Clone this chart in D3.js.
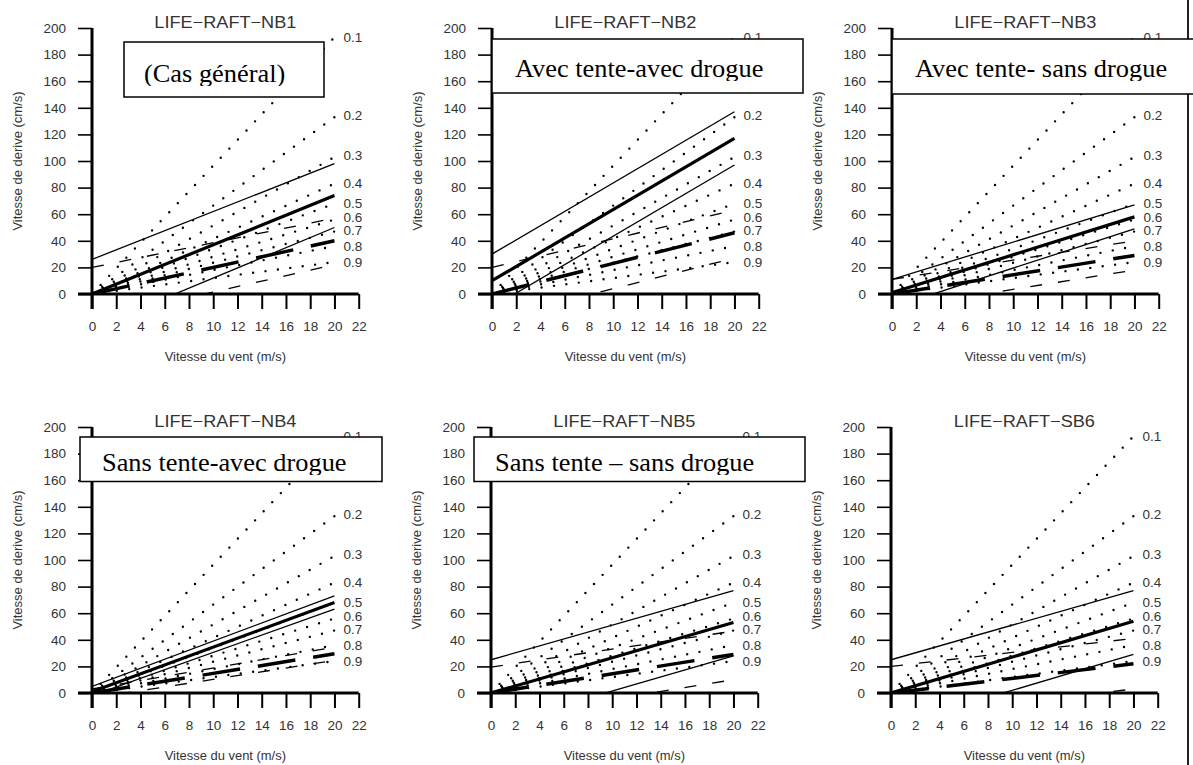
<!DOCTYPE html>
<html lang="fr">
<head>
<meta charset="UTF-8">
<title>Vitesse de derive - LIFE-RAFT</title>
<style>
  body { margin: 0; background: #fff; }
  svg text { font-family: "Liberation Sans", Arial, sans-serif; fill: #333; }
  svg text.note { font-family: "Liberation Serif", "Times New Roman", serif; fill: #000; }
</style>
</head>
<body>
<svg id="chart" width="1193" height="765"></svg>
<script src="https://cdn.jsdelivr.net/npm/d3@7"></script>
<script>

// ---- data ----

// x axis: wind speed (m/s), y axis: drift speed (cm/s)
var windTicks = [0, 2, 4, 6, 8, 10, 12, 14, 16, 18, 20, 22];
var driftTicks = [0, 20, 40, 60, 80, 100, 120, 140, 160, 180, 200];

// dotted reference lines from the origin, drift at 20 m/s
var levelNames = ["0.1", "0.2", "0.3", "0.4", "0.5", "0.6", "0.7", "0.8", "0.9"];
var levelEnds = [193, 133, 103, 83, 68, 56, 47, 36, 24];
// where each level's label sits (drift units)
var levelLabelAt = [193, 134, 104, 83, 68, 57.5, 48, 36, 24];

var panelTitles = ["LIFE\u2212RAFT\u2212NB1", "LIFE\u2212RAFT\u2212NB2", "LIFE\u2212RAFT\u2212NB3",
                   "LIFE\u2212RAFT\u2212NB4", "LIFE\u2212RAFT\u2212NB5", "LIFE\u2212RAFT\u2212SB6"];
var panelNotes = ["(Cas g\u00e9n\u00e9ral)", "Avec tente-avec drogue", "Avec tente- sans drogue",
                  "Sans tente-avec drogue", "Sans tente \u2013 sans drogue", null];

// fitted lines, [drift at 0 m/s, drift at 20 m/s] for each panel
var solidUpper = [[26, 98], [30, 137], [11, 67], [5, 73], [25, 77], [25, 77]];
var solidMean  = [[0, 74], [10, 117], [1, 58], [1, 68], [0, 53], [0, 54]];
var solidLower = [[-26, 50], [-10, 97], [-10, 49], [-2, 63], [-25, 28], [-25, 29]];
var dashUpper  = [[20, 57], [20, 63], [11, 40], [3, 34.5], [19.5, 46.5], [20, 41]];
var dashMean   = [[0, 40], [0, 46], [0, 29], [0, 29.5], [0, 29], [0, 22]];
var dashLower  = [[-19, 22], [-19, 27], [-11, 18], [-4, 24.5], [-19.5, 10], [-19, 3]];

// ---- layout ----

var origins = [[92, 28], [492, 28], [892, 28], [92, 427], [491, 427], [891, 427]];
// note boxes relative to panel origin: x, y, w, h, text x, text baseline
var noteBoxes = [[32, 14, 200, 55, 52, 54], [0, 11, 311, 54, 23, 49], [0, 11, 320, 55, 23, 49],
                 [-12, 10, 302, 44.5, 10, 44], [-17, 10, 331, 44.5, 4, 44], null];

var svg = d3.select("#chart");

var x = d3.scaleLinear().domain([0, 22]).range([0, 266.7]);
var y = d3.scaleLinear().domain([0, 200]).range([266, 0]);

var line = d3.line()
    .x(function(d) { return x(d[0]); })
    .y(function(d) { return y(d[1]); });

// helper for slightly wide text, like the scanned figure
function wideText(g, px, py, str, size, sx, anchor) {
    return g.append("text")
        .attr("transform", "translate(" + px + "," + py + ") scale(" + sx + ",1)")
        .attr("text-anchor", anchor)
        .attr("font-size", size)
        .text(str);
}

function drawPanel(i) {
    var g = svg.append("g")
        .attr("transform", "translate(" + origins[i][0] + "," + origins[i][1] + ")");

    // clip lines to the positive drift region
    g.append("clipPath").attr("id", "clip" + i)
        .append("rect")
        .attr("x", 0).attr("y", y(200) - 5)
        .attr("width", x(22)).attr("height", y(0) - y(200) + 5);

    var plot = g.append("g").attr("clip-path", "url(#clip" + i + ")");

    // dotted reference fan
    levelEnds.forEach(function(v) {
        plot.append("path")
            .attr("d", line([[0, 0], [20, v]]))
            .attr("fill", "none")
            .attr("stroke", "#000")
            .attr("stroke-width", 2.4)
            .attr("stroke-linecap", "round")
            .attr("stroke-dasharray", "0 12.5");
    });

    function fit(series, width, dash) {
        var p = plot.append("path")
            .attr("d", line([[0, series[i][0]], [20, series[i][1]]]))
            .attr("fill", "none")
            .attr("stroke", "#000")
            .attr("stroke-width", width);
        if (dash) p.attr("stroke-dasharray", dash);
    }

    fit(dashUpper, 1.3, "12 16");
    fit(dashLower, 1.3, "12 16");
    fit(dashMean, 3.5, "38 18");
    fit(solidUpper, 1.3);
    fit(solidLower, 1.3);
    fit(solidMean, 3.2);

    // axes
    var yAxis = g.append("g")
        .call(d3.axisLeft(y).tickValues(driftTicks).tickSize(14).tickPadding(12));
    var xAxis = g.append("g")
        .attr("transform", "translate(0," + y(0) + ")")
        .call(d3.axisBottom(x).tickValues(windTicks).tickSize(15).tickPadding(12));

    [yAxis, xAxis].forEach(function(a) {
        a.select(".domain").remove();
        a.selectAll("text").attr("font-size", 13.5)
            .attr("font-family", "Liberation Sans, Arial, sans-serif")
            .attr("fill", "#333");
    });
    yAxis.selectAll(".tick line").attr("stroke-width", 1.6);
    xAxis.selectAll(".tick line").attr("stroke-width", 2);

    g.append("line")
        .attr("x1", 0).attr("x2", 0)
        .attr("y1", y(200)).attr("y2", y(0) + 15)
        .attr("stroke", "#000").attr("stroke-width", 3);
    g.append("line")
        .attr("x1", -14).attr("x2", x(22))
        .attr("y1", y(0)).attr("y2", y(0))
        .attr("stroke", "#000").attr("stroke-width", 3);

    // level labels
    levelNames.forEach(function(name, k) {
        wideText(g, x(20) + 9, y(levelLabelAt[k]) + 4.5, name, 12.5, 1.08, "start");
    });

    // titles
    wideText(g, x(11), y(200), panelTitles[i], 16.5, 1.1, "middle");
    wideText(g, x(11), y(0) + 67, "Vitesse du vent (m/s)", 12, 1.08, "middle");
    g.append("text")
        .attr("transform", "translate(-70," + y(100) + ") rotate(-90)")
        .attr("text-anchor", "middle")
        .attr("font-size", 13)
        .text("Vitesse de derive (cm/s)");

    // note box on top
    var b = noteBoxes[i];
    if (b) {
        g.append("clipPath").attr("id", "noteclip" + i)
            .append("rect")
            .attr("x", b[0]).attr("y", b[1])
            .attr("width", b[2]).attr("height", b[5] - b[1] + 4);
        g.append("rect")
            .attr("x", b[0]).attr("y", b[1])
            .attr("width", b[2]).attr("height", b[3])
            .attr("fill", "#fff")
            .attr("stroke", "#000")
            .attr("stroke-width", 1.5);
        var holder = g.append("g").attr("clip-path", "url(#noteclip" + i + ")");
        wideText(holder, b[4], b[5], panelNotes[i], 25, 1.055, "start")
            .attr("class", "note");
    }
}

// page border line on the right
svg.append("line")
    .attr("x1", 1188).attr("x2", 1188)
    .attr("y1", 0).attr("y2", 765)
    .attr("stroke", "#222").attr("stroke-width", 2);

for (var i = 0; i < 6; i++) drawPanel(i);

</script>
</body>
</html>
